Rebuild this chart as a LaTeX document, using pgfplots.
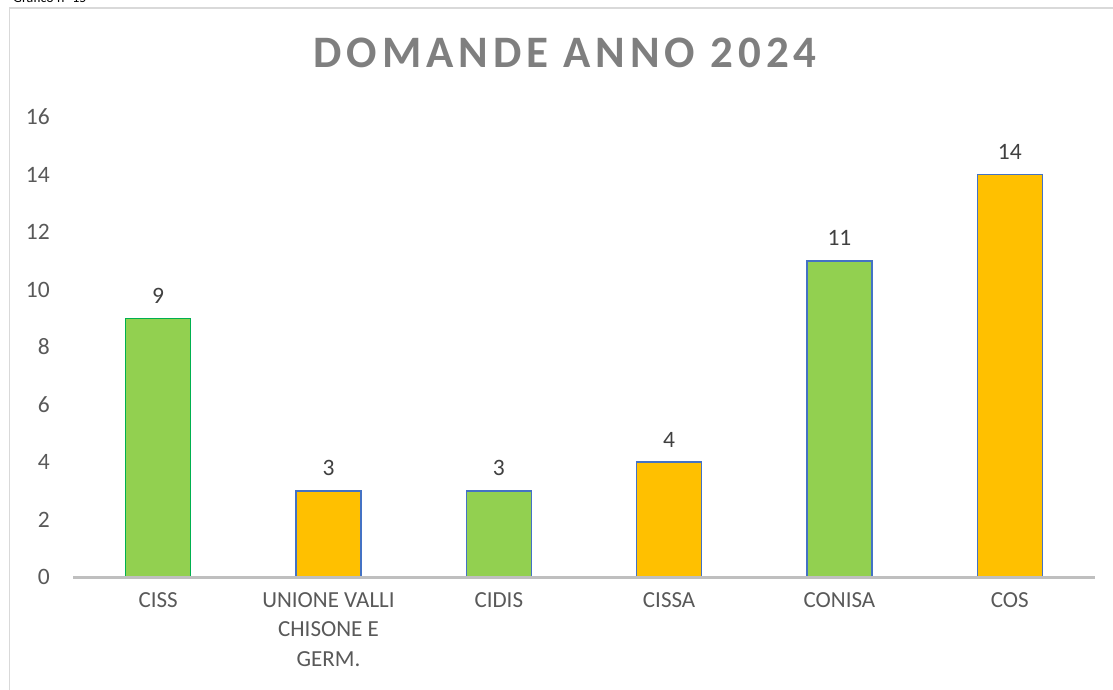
\documentclass[border=0pt]{standalone}
\usepackage{pgfplots}
\pgfplotsset{compat=1.18}
\usepackage{fontspec}
\setmainfont{Carlito}
\definecolor{tickgray}{HTML}{595959}
\definecolor{labgray}{HTML}{404040}
\definecolor{titlegray}{HTML}{7F7F7F}
\definecolor{axgray}{HTML}{BFBFBF}
\definecolor{framegray}{HTML}{D9D9D9}
\definecolor{barGreen}{HTML}{92D050}
\definecolor{barYellow}{HTML}{FFC000}
\definecolor{edgeBlue}{HTML}{4472C4}
\definecolor{edgeGreen}{HTML}{00B050}
\begin{document}
\begin{tikzpicture}[x=1pt,y=1pt]
\begin{axis}[
  at={(73pt,112pt)}, anchor=south west,
  scale only axis, width=1022pt, height=460pt,
  xmin=-0.5, xmax=5.5, ymin=0, ymax=16,
  xtick={0,1,2,3,4,5},
  xticklabels={CISS,{UNIONE VALLI\\CHISONE E\\GERM.},CIDIS,CISSA,CONISA,COS},
  ytick={0,2,...,16},
  axis line style={draw=none},
  major tick length=0pt,
  /pgf/number format/assume math mode=true,
  xticklabel style={align=center, anchor=north, inner sep=0pt, yshift=-15pt,
    font=\fontsize{23}{29.5}\selectfont, text=tickgray},
  yticklabel style={anchor=east, inner sep=0pt, xshift=-23pt,
    font=\fontsize{23.5}{28}\selectfont, text=tickgray},
  ybar, bar width=65pt,
  nodes near coords,
  every node near coord/.append style={anchor=base, inner sep=0pt, yshift=15pt,
    font=\fontsize{23.5}{28}\selectfont, text=labgray},
  clip=false,
]
\addplot[bar shift=0pt, fill=barGreen, draw=edgeGreen, line width=1.5pt] coordinates {(0,9)};
\addplot[bar shift=0pt, fill=barGreen, draw=edgeBlue, line width=1.5pt] coordinates {(2,3) (4,11)};
\addplot[bar shift=0pt, fill=barYellow, draw=edgeBlue, line width=1.5pt] coordinates {(1,3) (3,4) (5,14)};
\draw[axgray, line width=3pt] (axis cs:-0.5,0) -- (axis cs:5.5,0);
\end{axis}
\draw[framegray, line width=1.5pt] (9.5pt,-10pt) -- (9.5pt,681pt) -- (1130pt,681pt);
\node[anchor=base west, inner sep=0pt, font=\fontsize{14}{16}\selectfont] at (13pt,686pt) {Grafico n° 15};
\node[anchor=base, inner sep=0pt, text=titlegray, font=\fontsize{45}{52}\selectfont\bfseries\addfontfeature{LetterSpace=11}] at (565pt,621pt) {DOMANDE ANNO 2024};
\pgfresetboundingbox
\useasboundingbox (0pt,0pt) rectangle (1113pt,689pt);
\end{tikzpicture}
\end{document}
